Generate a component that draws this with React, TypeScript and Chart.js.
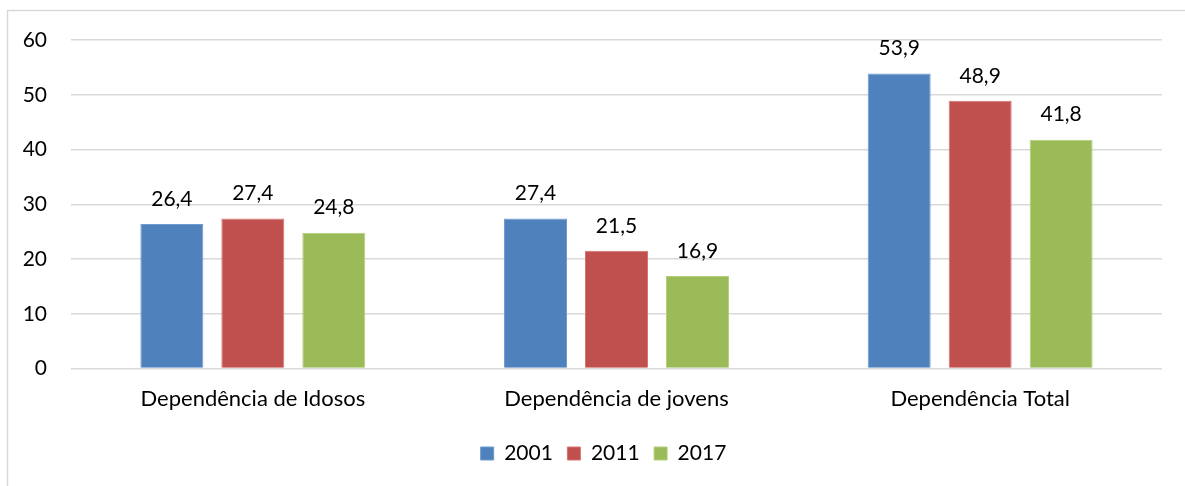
import React, { useEffect, useRef } from "react";
import { Chart, registerables } from "chart.js";

Chart.register(...registerables);

const categories = ["Dependência de Idosos", "Dependência de jovens", "Dependência Total"];
const years = ["2001", "2011", "2017"];
const values2001 = [26.4, 27.4, 53.9];
const values2011 = [27.4, 21.5, 48.9];
const values2017 = [24.8, 16.9, 41.8];
const fillColors = ["#4F81BD", "#C0504D", "#9BBB59"];
const edgeColors = ["#6F9AD0", "#D87370", "#B3CF7A"];
const yTicks = [0, 10, 20, 30, 40, 50, 60];

const FONT = "Lato, 'Open Sans', sans-serif";

const formatPt = (v: number) => v.toFixed(1).replace(".", ",");

// Writes each bar's value centred above it
const valueLabels = {
  id: "valueLabels",
  afterDatasetsDraw(chart: any) {
    const ctx = chart.ctx;
    ctx.save();
    ctx.font = `21px ${FONT}`;
    ctx.fillStyle = "#000";
    ctx.textAlign = "center";
    ctx.textBaseline = "middle";
    chart.data.datasets.forEach((ds: any, i: number) => {
      const meta = chart.getDatasetMeta(i);
      meta.data.forEach((bar: any, j: number) => {
        ctx.fillText(formatPt(ds.data[j]), bar.x, bar.y - 25);
      });
    });
    ctx.restore();
  },
};

// Light frame around the whole chart
const frame = {
  id: "frame",
  beforeDraw(chart: any) {
    const ctx = chart.ctx;
    ctx.save();
    ctx.strokeStyle = "#D9D9D9";
    ctx.lineWidth = 1.5;
    ctx.beginPath();
    ctx.moveTo(7.5, chart.height + 5);
    ctx.lineTo(7.5, 10.5);
    ctx.lineTo(chart.width + 5, 10.5);
    ctx.stroke();
    ctx.restore();
  },
};

// Centres the legend row under the plot area rather than the full canvas
const legendShift = {
  id: "legendShift",
  afterLayout(chart: any) {
    const lg = chart.legend;
    if (!lg) return;
    lg.left = 45;
    lg.width = lg.right - lg.left;
  },
};

export default function App() {
  const ref = useRef<HTMLCanvasElement>(null);

  useEffect(() => {
    document.body.style.margin = "0";
    const seriesValues = [values2001, values2011, values2017];
    const chart = new Chart(ref.current!, {
      type: "bar",
      data: {
        labels: categories,
        datasets: years.map((y, i) => ({
          label: y,
          data: seriesValues[i],
          backgroundColor: fillColors[i],
          borderColor: edgeColors[i],
          borderWidth: 1,
          categoryPercentage: 0.668,
          barPercentage: 0.778,
        })),
      },
      options: {
        animation: false,
        responsive: false,
        devicePixelRatio: 1,
        layout: { padding: { top: 40, bottom: 12, left: 0, right: 23 } },
        plugins: {
          legend: {
            position: "bottom",
            labels: {
              font: { family: FONT, size: 21 },
              color: "#000",
              boxWidth: 13,
              boxHeight: 13,
              padding: 14.5,
            },
          },
          tooltip: { enabled: false },
        },
        scales: {
          x: {
            grid: { display: false },
            border: { display: false },
            ticks: { font: { family: FONT, size: 22 }, color: "#000", padding: 9 },
            afterFit(scale: any) {
              scale.height = 60;
            },
          },
          y: {
            min: 0,
            max: 60,
            afterBuildTicks(scale: any) {
              scale.ticks = yTicks.map((v) => ({ value: v }));
            },
            grid: { color: "#D9D9D9", lineWidth: 1.5, drawTicks: false },
            border: { display: false },
            ticks: { font: { family: FONT, size: 21 }, color: "#000", padding: 24 },
            afterFit(scale: any) {
              scale.width = 71;
            },
          },
        },
      },
      plugins: [frame, legendShift, valueLabels],
    });
    return () => chart.destroy();
  }, []);

  return <canvas ref={ref} width={1185} height={486} style={{ display: "block" }} />;
}
